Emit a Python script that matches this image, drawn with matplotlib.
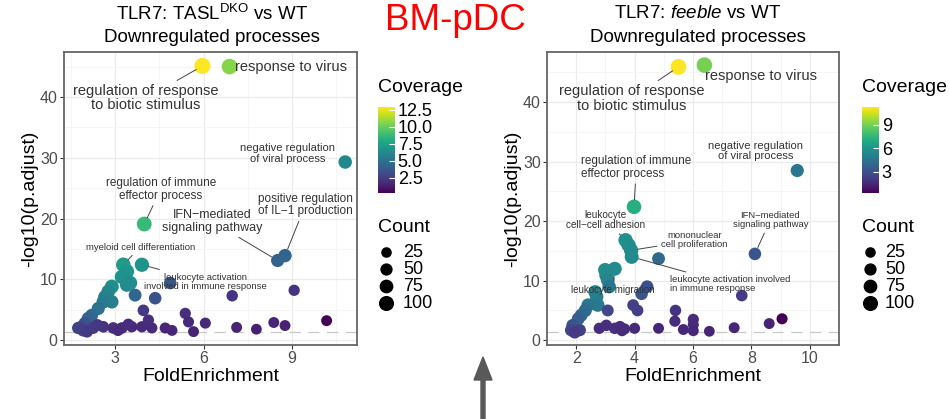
import matplotlib
matplotlib.use("Agg")
import matplotlib.pyplot as plt
import matplotlib.patches as patches
from matplotlib.colors import Normalize
from matplotlib.cm import ScalarMappable

plt.rcParams["font.family"] = ["Liberation Sans", "DejaVu Sans"]
plt.rcParams["mathtext.fontset"] = "custom"
plt.rcParams["mathtext.rm"] = "Liberation Sans"
plt.rcParams["mathtext.it"] = "Liberation Sans:italic"

MINUS = "\u2212"

# ---- TASL DKO vs WT ----
dko_fold = [5.96, 6.88, 10.8, 3.99, 8.51, 8.76, 3.28, 3.91,
            3.40, 3.34, 3.23, 3.51, 3.40, 4.87, 3.68, 4.36, 2.89, 2.77, 2.66, 2.89,
            2.60, 2.43, 2.21, 2.09, 1.98, 1.87, 1.75, 1.92, 2.26, 2.60, 2.94, 3.23,
            3.10, 3.57, 3.91, 3.96, 4.13, 4.25, 4.70, 4.93, 5.38, 5.49, 5.66, 6.06,
            6.97, 7.12, 7.79, 8.38, 8.76, 9.07, 10.17, 2.05, 2.40, 3.45]
dko_logp = [45.1, 45.0, 29.3, 19.1, 13.1, 13.9, 12.4, 12.4,
            11.3, 10.4, 10.4, 9.4, 9.1, 9.4, 7.4, 6.9, 8.8, 8.0, 7.1, 6.3,
            6.3, 5.2, 4.1, 3.6, 2.8, 2.2, 2.0, 1.6, 2.0, 2.2, 2.0, 2.0,
            1.6, 2.2, 2.2, 4.9, 3.3, 2.0, 2.0, 1.6, 4.4, 3.0, 1.4, 2.8,
            7.3, 2.1, 1.8, 2.9, 2.4, 8.2, 3.2, 1.4, 2.5, 2.6]
dko_cov = [12.9, 10.6, 6.2, 8.8, 4.2, 4.3, 7.2, 6.8,
           6.9, 6.8, 6.7, 6.5, 6.4, 3.6, 4.4, 3.5, 6.5, 6.2, 5.9, 5.6,
           5.5, 5.0, 4.6, 4.3, 3.6, 3.2, 2.8, 2.6, 2.6, 2.2, 2.0, 1.9,
           1.8, 1.8, 1.8, 2.4, 2.0, 1.8, 1.6, 1.6, 2.0, 1.8, 1.5, 1.7,
           2.2, 1.5, 1.4, 1.6, 1.5, 2.1, 0.3, 2.4, 2.3, 1.9]
dko_count = [120, 110, 70, 95, 65, 68, 90, 85,
             90, 90, 85, 85, 80, 55, 60, 55, 80, 75, 75, 70,
             70, 65, 60, 60, 55, 55, 50, 50, 45, 40, 40, 40,
             35, 35, 35, 40, 35, 32, 32, 30, 35, 32, 30, 32,
             38, 30, 28, 30, 30, 35, 30, 45, 42, 38]

# ---- feeble vs WT ----
fee_fold = [5.50, 6.39, 9.57, 3.98, 3.69, 3.79, 3.88, 3.90, 4.82, 8.12,
            3.32, 2.99, 3.03, 3.08, 3.13, 4.43, 4.24, 2.65, 2.70, 2.74,
            2.41, 2.31, 2.17, 2.07, 1.88, 1.83, 2.12, 3.08, 3.95, 4.10,
            3.03, 2.79, 3.32, 3.50, 3.57, 3.65, 4.00, 4.82, 5.40, 5.38,
            5.67, 6.01, 6.01, 6.01, 6.56, 7.41, 7.67, 8.61, 9.05, 1.95]
fee_logp = [45.9, 46.2, 28.5, 22.4, 16.8, 16.0, 15.1, 14.0, 13.7, 14.5,
            12.0, 11.8, 10.9, 10.1, 9.0, 9.0, 7.8, 8.1, 7.3, 5.9,
            5.9, 5.0, 4.2, 3.6, 2.5, 1.7, 1.7, 5.0, 5.9, 5.0,
            2.5, 2.0, 2.0, 2.3, 1.6, 1.9, 2.0, 2.0, 5.0, 3.2,
            1.8, 3.5, 2.6, 1.6, 1.5, 2.1, 7.5, 2.8, 3.6, 1.3]
fee_cov = [11.3, 9.0, 4.6, 7.2, 5.8, 5.7, 5.6, 5.5, 4.0, 3.2,
           5.6, 5.6, 5.5, 5.4, 4.6, 3.0, 3.2, 5.2, 5.0, 4.8,
           4.6, 4.2, 4.0, 3.6, 3.2, 2.6, 2.4, 2.6, 2.4, 2.3,
           1.8, 1.7, 1.8, 1.7, 1.6, 1.7, 1.6, 1.5, 1.9, 1.7,
           1.5, 1.7, 1.6, 1.5, 1.4, 1.5, 2.2, 1.4, 0.3, 2.2]
fee_count = [115, 110, 65, 90, 85, 85, 85, 80, 60, 55,
             80, 80, 80, 75, 70, 55, 55, 75, 72, 70,
             70, 65, 62, 60, 58, 55, 52, 45, 42, 42,
             38, 35, 38, 35, 32, 35, 32, 30, 38, 34,
             30, 34, 32, 30, 28, 30, 40, 30, 32, 48]

count_breaks = [25, 50, 75, 100]

# labels: (text, point index, text x, text y, ha, fontsize, leader line)
dko_labels = [
    ("regulation of response\nto biotic stimulus", 0, 4.05, 39.8, "center", 10.5, True),
    ("response to virus", 1, 7.05, 45.0, "left", 10.5, False),
    ("negative regulation\nof viral process", 2, 8.85, 30.7, "center", 8, False),
    ("regulation of immune\neffector process", 3, 4.55, 24.8, "center", 8.5, True),
    ("IFN" + MINUS + "mediated\nsignaling pathway", 4, 6.3, 19.5, "center", 9, True),
    ("positive regulation\nof IL" + MINUS + "1 production", 5, 9.45, 22.2, "center", 8.5, True),
    ("myeloid cell differentiation", 6, 3.85, 15.3, "center", 6.8, True),
    ("leukocyte activation\ninvolved in immune response", 7, 6.05, 9.6, "center", 6.8, True),
]
fee_labels = [
    ("regulation of response\nto biotic stimulus", 0, 3.9, 40.6, "center", 10.5, True),
    ("response to virus", 1, 6.4, 44.4, "left", 10.5, False),
    ("negative regulation\nof viral process", 2, 8.15, 31.8, "center", 8, False),
    ("regulation of immune\neffector process", 3, 2.17, 29.0, "left", 8.5, True),
    ("leukocyte\ncell" + MINUS + "cell adhesion", 4, 3.0, 20.2, "center", 7.2, True),
    ("mononuclear\ncell proliferation", 6, 6.05, 16.8, "center", 6.8, True),
    ("leukocyte activation involved\nin immune response", 7, 5.2, 9.4, "left", 6.8, True),
    ("leukocyte migration", 10, 3.25, 8.4, "center", 7, True),
    ("IFN" + MINUS + "mediated\nsignaling pathway", 9, 8.65, 20.2, "center", 6.8, True),
]

W, H = 949, 419


def fx(px):
    return px / W


def fy(py):
    return 1 - py / H


def size_of(c):
    return 38 + 0.8 * c


def draw_panel(ax, fold, logp, cov, count, labels, xticks, xlim, ylim):
    norm = Normalize(min(cov), max(cov))
    ax.set_facecolor("white")
    ax.set_xlim(xlim)
    ax.set_ylim(ylim)
    ax.set_xticks(xticks)
    ax.set_yticks([0, 10, 20, 30, 40])
    minor_x = [(a + b) / 2 for a, b in zip(xticks[:-1], xticks[1:])]
    step = xticks[1] - xticks[0]
    minor_x = [xticks[0] - step / 2] + minor_x + [xticks[-1] + step / 2]
    ax.set_xticks(minor_x, minor=True)
    ax.set_yticks([5, 15, 25, 35, 45], minor=True)
    ax.grid(True, which="major", color="#ebebeb", lw=0.9, zorder=0)
    ax.grid(True, which="minor", color="#f4f4f4", lw=0.6, zorder=0)
    ax.set_axisbelow(True)
    ax.tick_params(which="minor", length=0)
    ax.tick_params(which="major", length=3, width=0.8, color="#333333",
                   labelsize=11.5, labelcolor="#4d4d4d", pad=1.5)
    for sp in ax.spines.values():
        sp.set_color("#666666")
        sp.set_linewidth(1.3)
    ax.axhline(1.3, color="#c8c8c8", lw=0.9, ls=(0, (9, 6)), zorder=1)
    ax.scatter(fold, logp, c=cov, cmap="viridis", norm=norm,
               s=[size_of(c) for c in count], linewidths=0, zorder=3)
    for text, i, tx, ty, ha, fs, line in labels:
        arrow = None
        if line:
            arrow = dict(arrowstyle="-", color="#444444", lw=0.7,
                         shrinkA=1, shrinkB=5)
        ax.annotate(text, xy=(fold[i], logp[i]), xytext=(tx, ty),
                    ha=ha, va="center", fontsize=fs, color="#333333",
                    linespacing=1.05, arrowprops=arrow, zorder=4)
    ax.set_xlabel("FoldEnrichment", fontsize=14, labelpad=1)
    ax.set_ylabel("-log10(p.adjust)", fontsize=14, labelpad=1)
    return norm


def draw_legends(norm, cticks, cb_left, dot_x, text_x):
    cax = fig.add_axes([fx(cb_left), fy(193), fx(17), 86 / H])
    cb = fig.colorbar(ScalarMappable(norm=norm, cmap="viridis"), cax=cax)
    cb.outline.set_visible(False)
    cb.set_ticks(cticks)
    cax.tick_params(length=4, width=0.8, color="white", direction="in",
                    labelsize=13, pad=2)
    fig.text(fx(cb_left), fy(88), "Coverage", fontsize=14, va="center")
    fig.text(fx(cb_left), fy(227), "Count", fontsize=14, va="center")
    lax = fig.add_axes([0, 0, 1, 1], facecolor="none")
    lax.set_xlim(0, W)
    lax.set_ylim(H, 0)
    lax.axis("off")
    for k, c in enumerate(count_breaks):
        yy = 252 + 17 * k
        lax.scatter([dot_x], [yy], s=size_of(c), color="black", linewidths=0)
        lax.text(text_x, yy, str(c), fontsize=13, va="center", ha="left")


fig = plt.figure(figsize=(W / 100, H / 100), dpi=100)

ax1 = fig.add_axes([fx(64), fy(345), fx(357 - 64), (345 - 52) / H])
n1 = draw_panel(ax1, dko_fold, dko_logp, dko_cov, dko_count, dko_labels,
                [3, 6, 9], (1.27, 11.2), (-0.8, 47.4))
ax2 = fig.add_axes([fx(547), fy(345), fx(839 - 547), (345 - 52) / H])
n2 = draw_panel(ax2, fee_fold, fee_logp, fee_cov, fee_count, fee_labels,
                [2, 4, 6, 8, 10], (1.45, 9.91), (-0.8, 48.4))

fig.text(fx(212), fy(14), "TLR7: TASL$^{\\mathrm{DKO}}$ vs WT", fontsize=13.5,
         ha="center", va="center")
fig.text(fx(212), fy(38), "Downregulated processes", fontsize=13.5,
         ha="center", va="center")
fig.text(fx(698), fy(14), "TLR7: $\\mathit{feeble}$ vs WT", fontsize=13.5,
         ha="center", va="center")
fig.text(fx(698), fy(38), "Downregulated processes", fontsize=13.5,
         ha="center", va="center")

draw_legends(n1, [2.5, 5.0, 7.5, 10.0, 12.5], 378, 386, 403)
draw_legends(n2, [3, 6, 9], 862, 870, 885)

fig.text(fx(455), fy(20), "BM-pDC", color="red", fontsize=26.5,
         ha="center", va="center")

fig.patches.append(patches.FancyArrow(
    fx(483), fy(419), 0, fy(357) - fy(419), width=fx(4),
    head_width=fx(18), head_length=(380 - 357) / H,
    length_includes_head=True, color="#595959",
    transform=fig.transFigure, figure=fig))

fig.savefig("out.png", dpi=100)
